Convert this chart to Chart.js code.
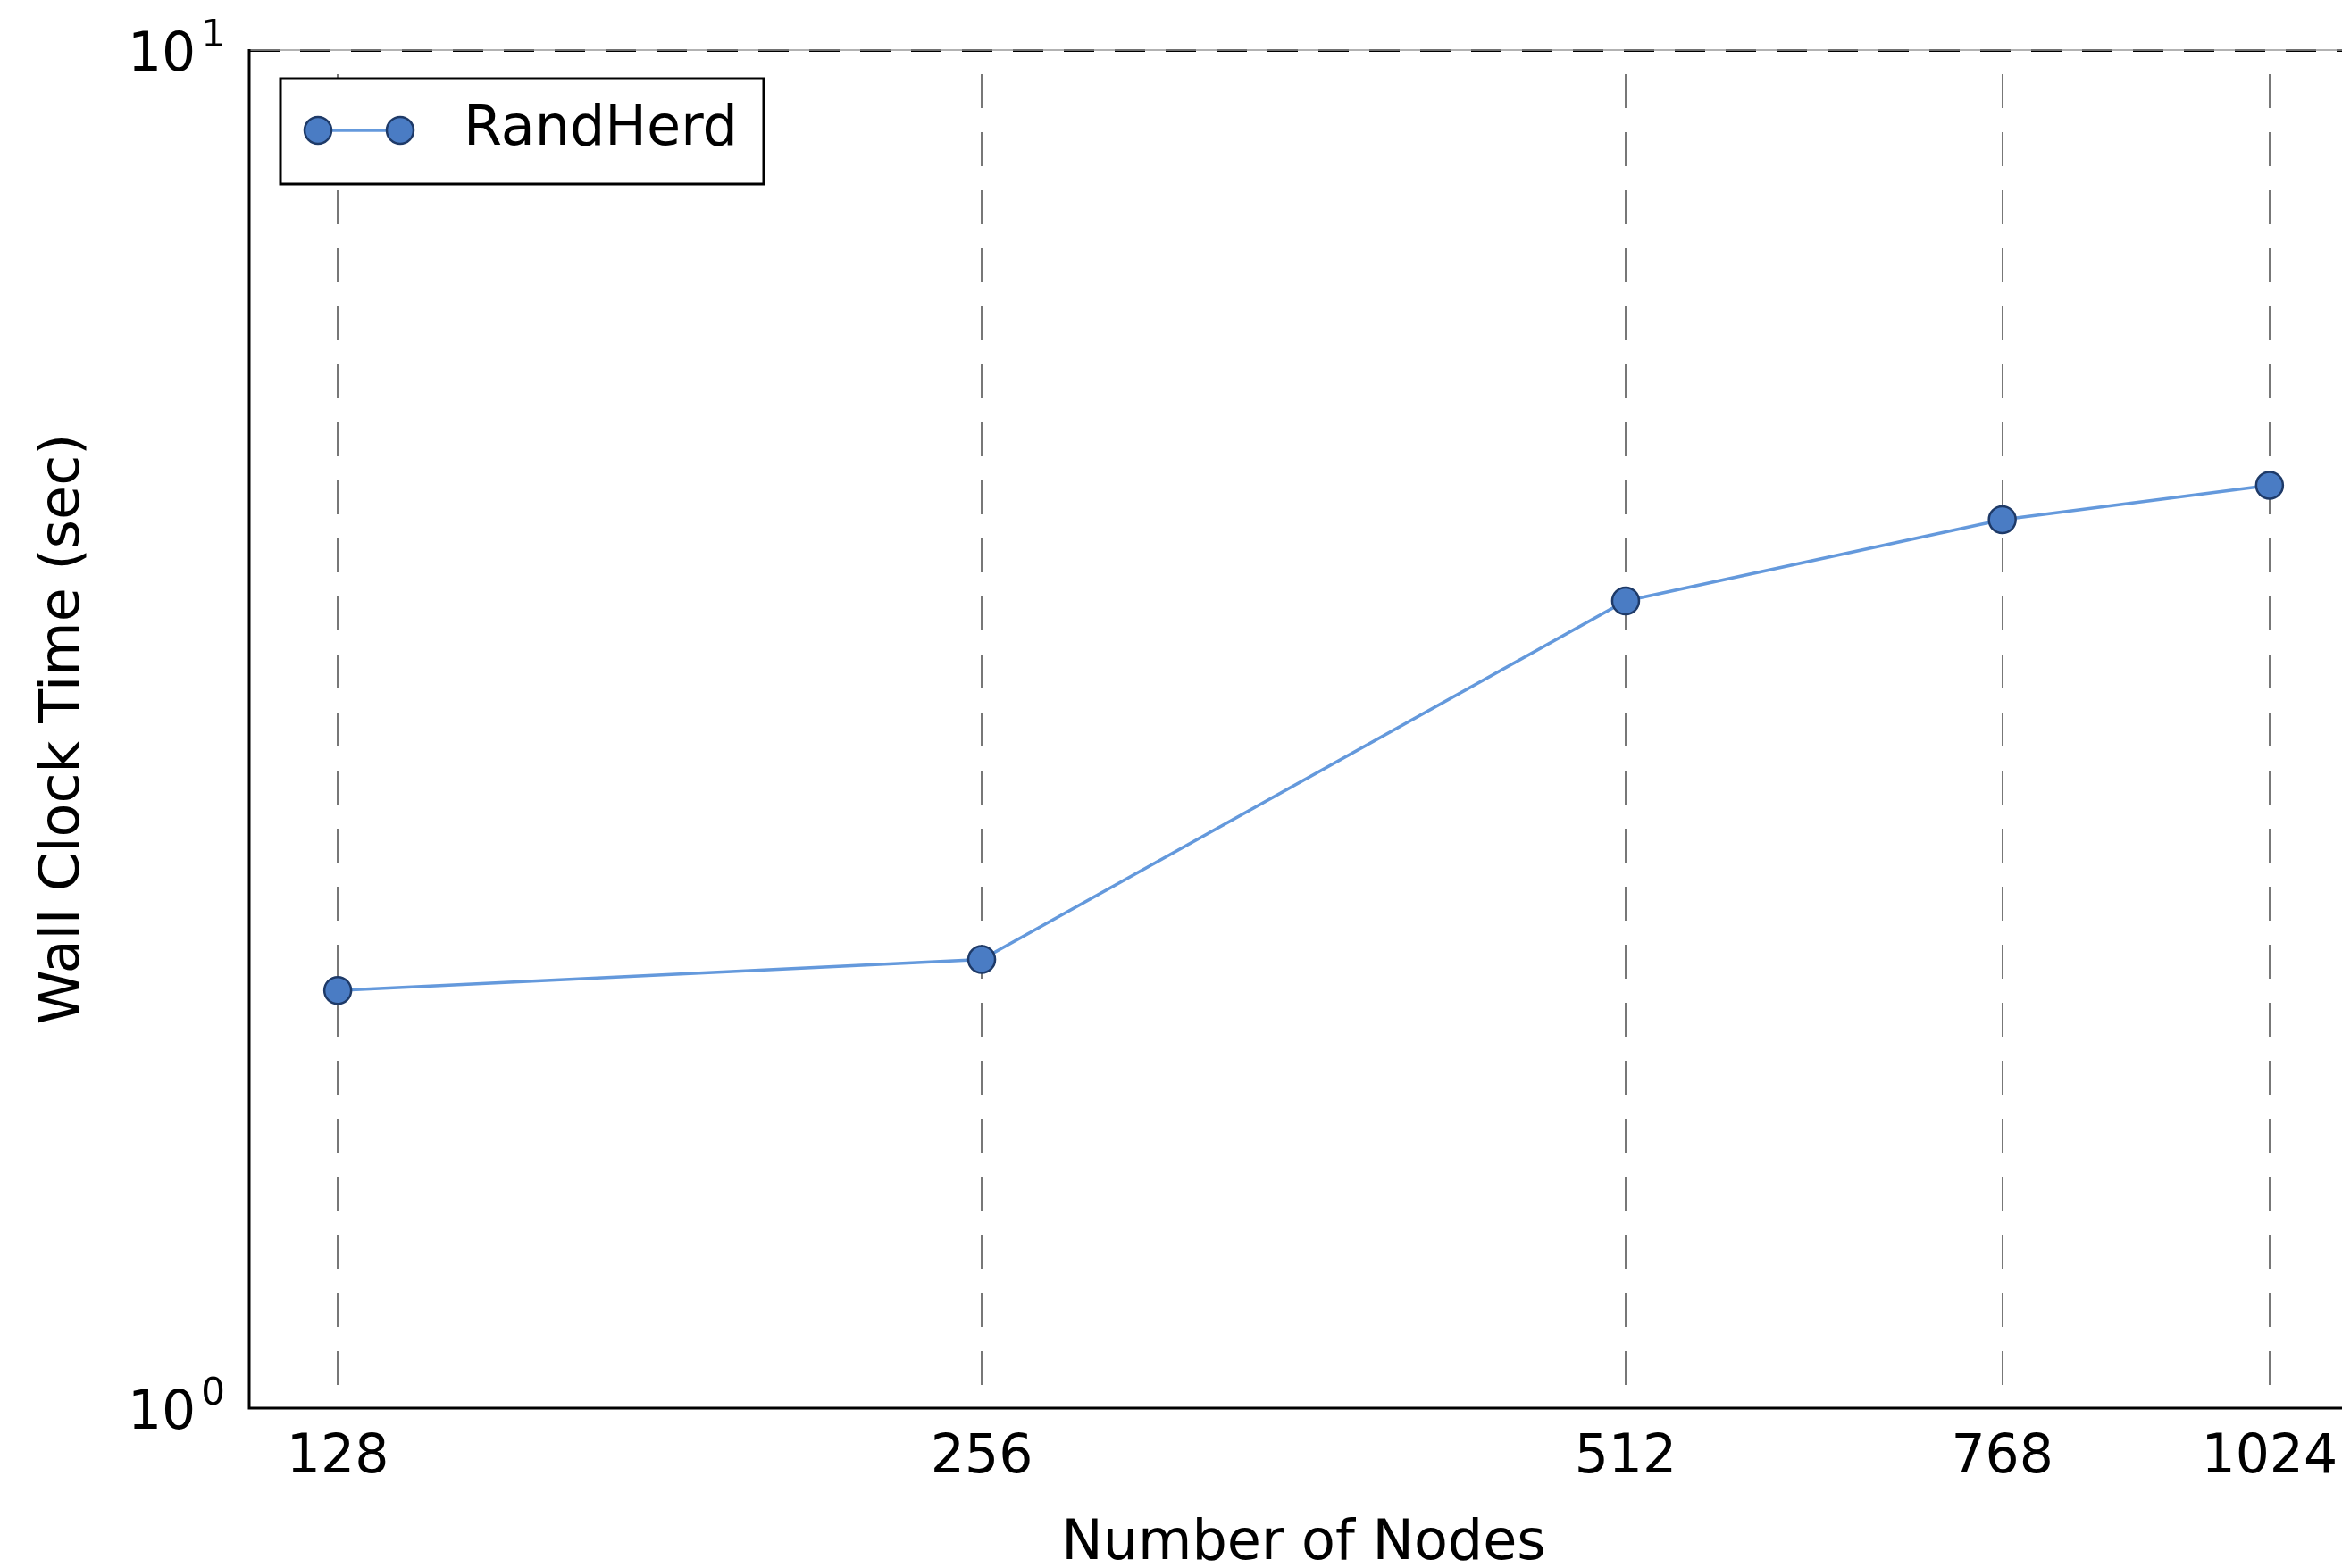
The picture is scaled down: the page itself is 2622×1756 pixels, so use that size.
<!DOCTYPE html>
<html>
<head>
<meta charset="utf-8">
<script src="https://cdn.jsdelivr.net/npm/chart.js@4.4.1/dist/chart.umd.min.js"></script>
<style>
    html, body { margin: 0; padding: 0; background: #fff; overflow: hidden; }
</style>
</head>
<body>
<canvas id="myChart" width="2660" height="1756"></canvas>
<script>
// values
var nodes = [128, 256, 512, 768, 1024];
var wallTime = [2.03, 2.14, 3.93, 4.51, 4.78];
var xTicks = [128, 256, 512, 768, 1024];
var yTicks = [1, 10];
var yTickExp = ['0', '1'];
var seriesName = 'RandHerd';

var lineColor = '#6499dc';
var markerFill = '#4a7cc4';
var markerEdge = '#1e3a68';
var fontFam = '"DejaVu Sans", sans-serif';

// spines (left, bottom solid, top thin grey under the dashed gridline)
var spines = {
    id: 'spines',
    afterDatasetsDraw: function (chart) {
        var a = chart.chartArea, c = chart.ctx;
        c.save();
        c.strokeStyle = '#999';
        c.lineWidth = 1.5;
        c.beginPath();
        c.moveTo(a.left, a.top);
        c.lineTo(a.right, a.top);
        c.stroke();
        c.strokeStyle = '#000';
        c.lineWidth = 3;
        c.beginPath();
        c.moveTo(a.left, a.top - 1);
        c.lineTo(a.left, a.bottom);
        c.lineTo(a.right, a.bottom);
        c.stroke();
        c.restore();
    }
};

// y tick labels as 10 with a raised exponent, like mathtext
var powerLabels = {
    id: 'powerLabels',
    afterDraw: function (chart) {
        var s = chart.scales.y, c = chart.ctx;
        var xr = chart.chartArea.left - 27;
        c.save();
        c.fillStyle = '#000';
        c.textAlign = 'left';
        c.textBaseline = 'alphabetic';
        yTicks.forEach(function (v, i) {
            var py = s.getPixelForValue(v);
            c.font = '42px ' + fontFam;
            var supW = c.measureText(yTickExp[i]).width;
            c.fillText(yTickExp[i], xr - supW, py - 4);
            c.font = '60px ' + fontFam;
            var baseW = c.measureText('10').width;
            c.fillText('10', xr - supW - 6 - baseW, py + 23);
        });
        c.restore();
    }
};

// matplotlib style legend box: line with two markers
var boxLegend = {
    id: 'boxLegend',
    afterDraw: function (chart) {
        var a = chart.chartArea, c = chart.ctx;
        var ds = chart.data.datasets[0];
        var left = a.left + 35, top = a.top + 32, w = 541, h = 118;
        var cy = top + 58;
        c.save();
        c.fillStyle = '#fff';
        c.fillRect(left, top, w, h);
        c.strokeStyle = '#000';
        c.lineWidth = 3;
        c.strokeRect(left, top, w, h);
        c.strokeStyle = ds.borderColor;
        c.lineWidth = ds.borderWidth;
        c.beginPath();
        c.moveTo(left + 42, cy);
        c.lineTo(left + 134, cy);
        c.stroke();
        [left + 42, left + 134].forEach(function (px) {
            c.beginPath();
            c.arc(px, cy, ds.pointRadius, 0, Math.PI * 2);
            c.fillStyle = ds.pointBackgroundColor;
            c.fill();
            c.lineWidth = ds.pointBorderWidth;
            c.strokeStyle = ds.pointBorderColor;
            c.stroke();
        });
        c.fillStyle = '#000';
        c.font = '62px ' + fontFam;
        c.textBaseline = 'middle';
        c.textAlign = 'left';
        c.fillText(ds.label, left + 205, cy);
        c.restore();
    }
};

var ctx = document.getElementById('myChart');
var myChart = new Chart(ctx, {
    type: 'line',
    data: {
        datasets: [{
            label: seriesName,
            data: nodes.map(function (n, i) { return { x: n, y: wallTime[i] }; }),
            fill: false,
            borderColor: lineColor,
            borderWidth: 3.5,
            tension: 0,
            pointRadius: 15,
            pointBorderWidth: 2.5,
            pointBackgroundColor: markerFill,
            pointBorderColor: markerEdge
        }]
    },
    options: {
        responsive: false,
        animation: false,
        devicePixelRatio: 1,
        layout: { padding: { left: 0, top: 56, right: 20, bottom: 0 } },
        plugins: {
            legend: { display: false },
            tooltip: { enabled: false }
        },
        scales: {
            x: {
                type: 'logarithmic',
                min: 128 / 1.1,
                max: 1024 * 1.1,
                afterBuildTicks: function (scale) {
                    scale.ticks = xTicks.map(function (v) { return { value: v }; });
                },
                afterFit: function (scale) { scale.height = 179; },
                ticks: {
                    color: '#000',
                    font: { family: fontFam, size: 60 },
                    padding: 20,
                    maxRotation: 0,
                    autoSkip: false,
                    callback: function (v) { return String(v); }
                },
                grid: {
                    color: '#777',
                    lineWidth: 2,
                    drawTicks: false
                },
                border: { display: false, dash: [38, 27], dashOffset: 38 },
                title: {
                    display: true,
                    text: 'Number of Nodes',
                    color: '#000',
                    font: { family: fontFam, size: 62, lineHeight: 0.85 },
                    padding: { top: 0, bottom: 0 }
                }
            },
            y: {
                type: 'logarithmic',
                min: 1,
                max: 10,
                afterBuildTicks: function (scale) {
                    scale.ticks = yTicks.map(function (v) { return { value: v }; });
                },
                afterFit: function (scale) { scale.width = 279; },
                ticks: { display: false },
                grid: {
                    color: function (c) { return c.tick && c.tick.value === 10 ? '#000' : 'rgba(0,0,0,0)'; },
                    lineWidth: 3,
                    drawTicks: false
                },
                border: { display: false, dash: [34, 23] },
                title: {
                    display: true,
                    text: 'Wall Clock Time (sec)',
                    color: '#000',
                    font: { family: fontFam, size: 62, lineHeight: 1.2 },
                    padding: { top: 35, bottom: 0 }
                }
            }
        }
    },
    plugins: [spines, powerLabels, boxLegend]
});
</script>
</body>
</html>
